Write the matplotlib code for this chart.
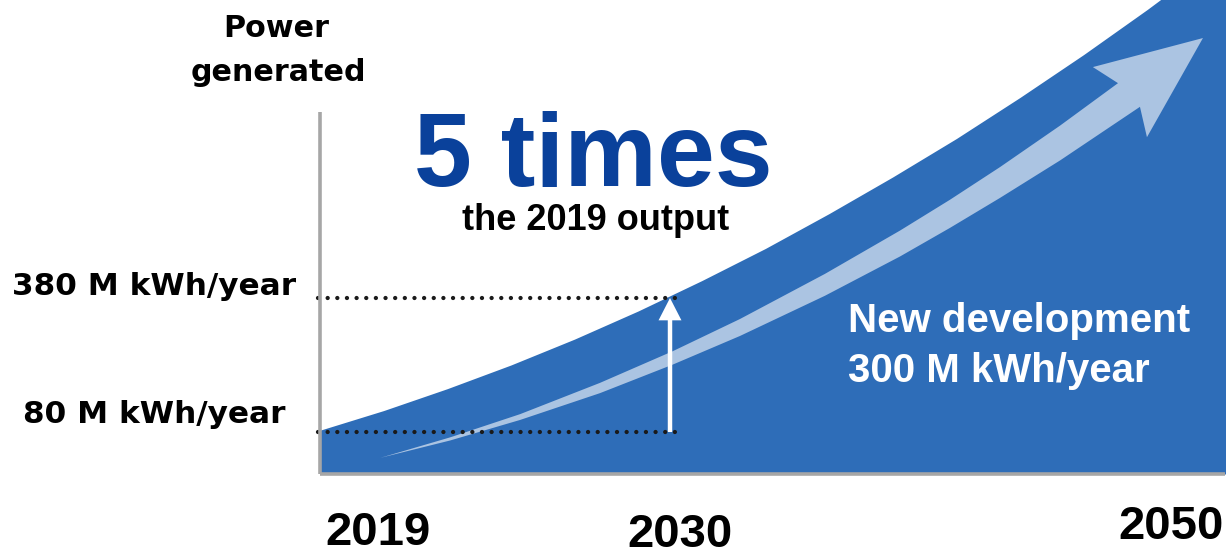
import matplotlib
matplotlib.use('Agg')
import matplotlib.pyplot as plt
from matplotlib.patches import FancyArrow

W, H = 1228, 551

# power curve (years, M kWh/year)
curve_years = [2019, 2021, 2023, 2025, 2027, 2029, 2031, 2033, 2035, 2037, 2039, 2041, 2043, 2045, 2047, 2048]
curve_vals = [84, 128, 177, 230, 288, 351, 419, 491, 569, 651, 737, 829, 925, 1026, 1132, 1187]

# reference levels
level_2019 = 80
level_2030 = 380
level_labels = ['80 M kWh/year', '380 M kWh/year']

# light "growth" arrow: shaft edges and head
shaft_years = [2020.89, 2023.09, 2025.29, 2027.80, 2030.09, 2032.20, 2034.87, 2037.23, 2038.80, 2040.37, 2042.26]
shaft_upper = [22, 68, 120, 190, 261, 333, 434, 531, 600, 673, 766]
shaft_lower = [22, 61, 107, 167, 231, 295, 385, 473, 537, 604, 688]
notch_years = [2044.08, 2044.77]          # upper, lower
notch_vals = [861, 808]
head_years = [2044.99, 2046.75, 2043.29]  # lower corner, tip, upper corner
head_vals = [740, 962, 897]

year_labels = ['2019', '2030', '2050']

BLUE = '#2E6DB8'
LIGHT = '#ABC4E2'
DARK = '#0A419B'
GRAY = '#A6A6A6'

px_per_year = 350 / 11.0
units_per_px = 300 / 134.0
y_bottom = level_2019 - (474 - 432) * units_per_px
y_top = level_2019 + 432 * units_per_px
x_right = 2019 + 905 / px_per_year

fig = plt.figure(figsize=(W / 100, H / 100), dpi=100)
ax = fig.add_axes([320 / W, (H - 474) / H, 905 / W, 474 / H])
ax.set_xlim(2019, x_right)
ax.set_ylim(y_bottom, y_top)
ax.axis('off')

ax.fill_between(curve_years, curve_vals, y_bottom, color=BLUE, lw=0, zorder=1)

xs = (shaft_years + [notch_years[1]] + head_years + [notch_years[0]] + shaft_years[::-1])
ys = (shaft_lower + [notch_vals[1]] + head_vals + [notch_vals[0]] + shaft_upper[::-1])
ax.fill(xs, ys, color=LIGHT, lw=0, zorder=2)

ax.add_patch(FancyArrow(2030.0, level_2019, 0, level_2030 - level_2019,
                        width=0.14, head_width=0.72, head_length=50,
                        length_includes_head=True, color='white', lw=0, zorder=3))

for lv in [level_2019, level_2030]:
    ax.plot([2018.94, 2030.3], [lv, lv], color='#1a1a1a', lw=3.1,
            linestyle=(0, (0.01, 2.23)), dash_capstyle='round',
            clip_on=False, zorder=4)

top_axis = level_2019 + (432 - 112) * units_per_px
ax.plot([2019, 2019], [y_bottom, top_axis], color=GRAY, lw=2.6,
        solid_capstyle='butt', clip_on=False, zorder=5)
ax.plot([2019, x_right], [y_bottom, y_bottom], color=GRAY, lw=2.6,
        solid_capstyle='butt', clip_on=False, zorder=5)


def ptext(x, y, s, **kw):
    fig.text(x / W, 1 - y / H, s, **kw)


lab = dict(family='DejaVu Sans', weight='bold', color='black', va='baseline', ha='center')
ptext(276, 37, 'Power', fontsize=21.7, **lab)
ptext(278, 81, 'generated', fontsize=21.7, **lab)
ptext(154, 295, level_labels[1], fontsize=22.4, **lab)
ptext(154, 423, level_labels[0], fontsize=22.4, **lab)

lib = dict(family='Liberation Sans', weight='bold', va='baseline')
ptext(593, 186, '5 times', fontsize=75, color=DARK, ha='center', **lib)
ptext(596, 230, 'the 2019 output', fontsize=26, color='black', ha='center', **lib)
ptext(848, 332, 'New development', fontsize=29, color='white', ha='left', **lib)
ptext(848, 382, '300 M kWh/year', fontsize=29, color='white', ha='left', **lib)

ptext(378, 545, year_labels[0], fontsize=34, color='black', ha='center', **lib)
ptext(680, 547, year_labels[1], fontsize=34, color='black', ha='center', **lib)
ptext(1171, 539, year_labels[2], fontsize=34, color='black', ha='center', **lib)

fig.savefig('out.png', dpi=100, facecolor='white')
